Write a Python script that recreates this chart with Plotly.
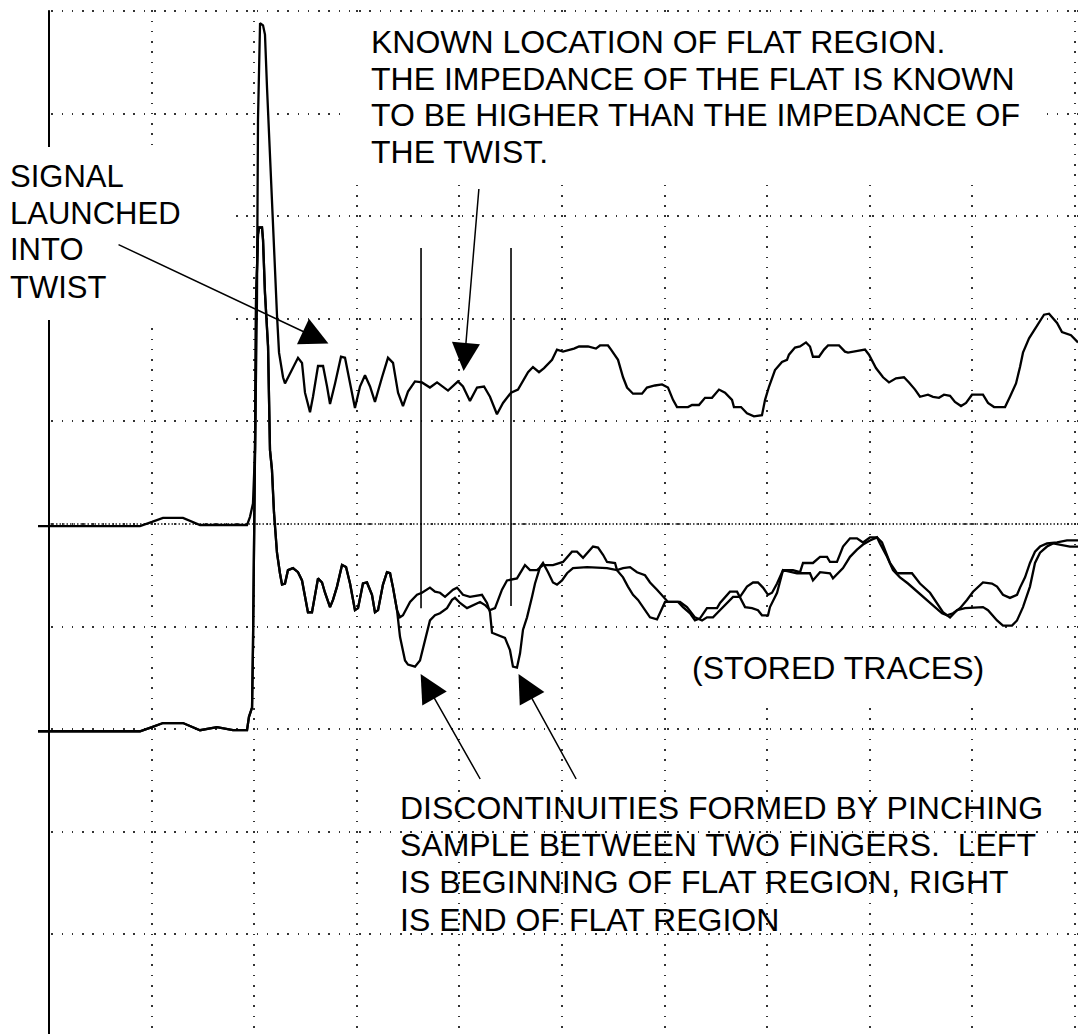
import plotly.graph_objects as go

# Time in screen divisions (10 across), amplitude in divisions (0 = centre graticule line)
upper_t = [-0.107, 0.887, 1.004, 1.111, 1.306, 1.394, 1.472, 1.793, 1.930, 1.959, 1.988, 2.008, 2.027, 2.037, 2.057, 2.086, 2.105, 2.125, 2.154, 2.183, 2.222, 2.242, 2.281, 2.300, 2.349, 2.427, 2.466, 2.495, 2.544, 2.573, 2.622, 2.671, 2.710, 2.739, 2.788, 2.846, 2.885, 2.934, 2.982, 3.031, 3.080, 3.129, 3.177, 3.246, 3.304, 3.353, 3.402, 3.450, 3.499, 3.567, 3.635, 3.713, 3.782, 3.889, 3.986, 4.035, 4.103, 4.172, 4.240, 4.298, 4.366, 4.425, 4.503, 4.571, 4.610, 4.669, 4.717, 4.776, 4.825, 4.903, 4.951, 5.010, 5.117, 5.166, 5.253, 5.331, 5.370, 5.448, 5.478, 5.546, 5.595, 5.634, 5.692, 5.780, 5.828, 5.906, 5.975, 6.033, 6.082, 6.121, 6.228, 6.267, 6.335, 6.394, 6.462, 6.530, 6.589, 6.657, 6.676, 6.745, 6.803, 6.871, 6.949, 6.979, 7.018, 7.076, 7.144, 7.193, 7.212, 7.271, 7.320, 7.378, 7.417, 7.446, 7.505, 7.554, 7.593, 7.700, 7.758, 7.788, 7.895, 7.953, 7.992, 8.060, 8.129, 8.187, 8.255, 8.333, 8.382, 8.441, 8.489, 8.567, 8.616, 8.674, 8.723, 8.782, 8.830, 8.889, 8.938, 8.996, 9.103, 9.152, 9.211, 9.318, 9.366, 9.425, 9.464, 9.493, 9.552, 9.620, 9.698, 9.747, 9.825, 9.873, 9.961, 10.029]
upper_v = [-0.02, -0.02, 0.02, 0.06, 0.06, 0.02, -0.01, -0.01, -0.01, 0.07, 0.20, 0.72, 2.18, 3.94, 4.88, 4.86, 4.77, 4.25, 3.55, 2.87, 2.04, 1.67, 1.43, 1.37, 1.47, 1.62, 1.57, 1.28, 1.09, 1.24, 1.54, 1.54, 1.34, 1.17, 1.37, 1.63, 1.62, 1.37, 1.13, 1.34, 1.45, 1.34, 1.19, 1.43, 1.62, 1.57, 1.28, 1.15, 1.29, 1.39, 1.38, 1.33, 1.38, 1.30, 1.39, 1.34, 1.20, 1.33, 1.34, 1.24, 1.07, 1.18, 1.28, 1.31, 1.38, 1.48, 1.53, 1.48, 1.52, 1.60, 1.70, 1.68, 1.71, 1.73, 1.73, 1.71, 1.74, 1.74, 1.70, 1.60, 1.43, 1.33, 1.27, 1.27, 1.33, 1.35, 1.36, 1.33, 1.21, 1.14, 1.14, 1.16, 1.16, 1.23, 1.23, 1.31, 1.28, 1.21, 1.14, 1.14, 1.08, 1.05, 1.06, 1.21, 1.34, 1.50, 1.58, 1.60, 1.65, 1.72, 1.73, 1.77, 1.73, 1.63, 1.63, 1.70, 1.74, 1.74, 1.68, 1.67, 1.69, 1.70, 1.65, 1.52, 1.43, 1.38, 1.42, 1.43, 1.38, 1.31, 1.24, 1.26, 1.24, 1.23, 1.26, 1.25, 1.19, 1.15, 1.18, 1.26, 1.26, 1.18, 1.14, 1.14, 1.24, 1.37, 1.53, 1.67, 1.81, 1.92, 2.04, 2.05, 1.96, 1.87, 1.84, 1.77]

# stored traces: common start, then the two pinched versions
stored_t = [-0.107, 0.887, 1.004, 1.111, 1.306, 1.404, 1.472, 1.637, 1.793, 1.930, 1.949, 1.979, 1.988, 2.008, 2.018, 2.037, 2.047, 2.076, 2.086, 2.105, 2.135, 2.154, 2.173, 2.193, 2.212, 2.222, 2.251, 2.271, 2.300, 2.329, 2.378, 2.427, 2.466, 2.495, 2.524, 2.563, 2.593, 2.622, 2.661, 2.690, 2.739, 2.768, 2.807, 2.856, 2.895, 2.934, 2.982, 3.012, 3.060, 3.099, 3.148, 3.177, 3.207, 3.255, 3.294, 3.324, 3.353, 3.392]
stored_v = [-2.02, -2.02, -1.98, -1.94, -1.94, -1.98, -2.01, -1.98, -2.01, -2.01, -1.88, -1.79, -1.20, 0.72, 2.18, 2.82, 2.89, 2.89, 2.77, 2.25, 1.73, 0.72, 0.53, 0.11, -0.13, -0.28, -0.48, -0.59, -0.58, -0.45, -0.43, -0.47, -0.55, -0.71, -0.86, -0.86, -0.67, -0.53, -0.57, -0.67, -0.81, -0.74, -0.61, -0.40, -0.42, -0.58, -0.84, -0.82, -0.58, -0.57, -0.69, -0.86, -0.84, -0.59, -0.47, -0.48, -0.62, -0.84]

left_pinch_t = [3.421, 3.470, 3.499, 3.567, 3.616, 3.665, 3.713, 3.762, 3.811, 3.879, 3.928, 3.957, 4.006, 4.074, 4.133, 4.201, 4.250, 4.298, 4.347, 4.415, 4.464, 4.561, 4.639, 4.688, 4.756, 4.815, 4.912, 5.010, 5.097, 5.146, 5.205, 5.253, 5.302, 5.351, 5.400, 5.439, 5.517, 5.536, 5.595, 5.643, 5.692, 5.741, 5.789, 5.858, 5.926, 5.975, 6.004, 6.150, 6.218, 6.296, 6.365, 6.413, 6.472, 6.520, 6.608, 6.667, 6.735, 6.803, 6.862, 6.910, 6.959, 7.008, 7.047, 7.096, 7.154, 7.251, 7.320, 7.349, 7.446, 7.515, 7.583, 7.612, 7.680, 7.739, 7.807, 7.875, 7.934, 8.002, 8.070, 8.119, 8.197, 8.265, 8.411, 8.489, 8.587, 8.655, 8.713, 8.782, 8.850, 8.928, 9.103, 9.152, 9.240, 9.298, 9.386, 9.435, 9.493, 9.561, 9.610, 9.659, 9.727, 9.786, 9.854, 9.951, 10.029]
left_pinch_v = [-1.10, -1.33, -1.37, -1.39, -1.33, -1.13, -0.94, -0.89, -0.87, -0.82, -0.74, -0.72, -0.77, -0.82, -0.79, -0.76, -0.79, -0.84, -0.82, -0.64, -0.55, -0.53, -0.40, -0.45, -0.45, -0.40, -0.40, -0.37, -0.27, -0.27, -0.33, -0.28, -0.22, -0.23, -0.30, -0.37, -0.38, -0.45, -0.52, -0.61, -0.69, -0.74, -0.81, -0.91, -0.93, -0.82, -0.76, -0.76, -0.81, -0.91, -0.94, -0.91, -0.91, -0.86, -0.77, -0.71, -0.71, -0.61, -0.57, -0.57, -0.62, -0.69, -0.67, -0.58, -0.45, -0.45, -0.47, -0.38, -0.38, -0.32, -0.32, -0.37, -0.37, -0.22, -0.14, -0.14, -0.18, -0.13, -0.13, -0.18, -0.38, -0.48, -0.48, -0.58, -0.67, -0.77, -0.86, -0.91, -0.84, -0.82, -0.81, -0.84, -0.94, -0.99, -0.99, -0.94, -0.81, -0.61, -0.38, -0.28, -0.22, -0.19, -0.20, -0.22, -0.22]

right_pinch_t = [3.421, 3.450, 3.519, 3.587, 3.635, 3.713, 3.762, 3.811, 3.860, 3.938, 3.977, 4.035, 4.103, 4.220, 4.269, 4.298, 4.318, 4.376, 4.444, 4.493, 4.522, 4.561, 4.591, 4.620, 4.659, 4.708, 4.737, 4.786, 4.815, 4.864, 4.912, 4.951, 5.000, 5.049, 5.107, 5.244, 5.439, 5.536, 5.595, 5.663, 5.731, 5.809, 5.858, 5.926, 5.984, 6.033, 6.131, 6.179, 6.248, 6.296, 6.345, 6.413, 6.511, 6.540, 6.637, 6.706, 6.784, 6.852, 6.910, 6.949, 7.008, 7.027, 7.096, 7.154, 7.290, 7.417, 7.446, 7.515, 7.612, 7.641, 7.739, 7.807, 7.875, 7.934, 8.002, 8.070, 8.099, 8.168, 8.226, 8.294, 8.372, 8.460, 8.558, 8.635, 8.704, 8.752, 8.811, 8.879, 8.947, 9.006, 9.103, 9.191, 9.240, 9.298, 9.366, 9.435, 9.464, 9.513, 9.561, 9.610, 9.659, 9.727, 9.825, 9.922, 10.029]
right_pinch_v = [-0.91, -0.89, -0.76, -0.69, -0.67, -0.62, -0.66, -0.67, -0.71, -0.64, -0.62, -0.69, -0.71, -0.69, -0.77, -0.86, -1.06, -1.08, -1.11, -1.23, -1.39, -1.40, -1.26, -1.03, -0.91, -0.71, -0.58, -0.42, -0.38, -0.47, -0.57, -0.59, -0.55, -0.48, -0.43, -0.42, -0.43, -0.45, -0.43, -0.42, -0.47, -0.50, -0.57, -0.64, -0.71, -0.76, -0.76, -0.81, -0.87, -0.94, -0.92, -0.82, -0.82, -0.77, -0.66, -0.66, -0.81, -0.82, -0.84, -0.89, -0.89, -0.81, -0.67, -0.45, -0.48, -0.48, -0.55, -0.47, -0.48, -0.53, -0.43, -0.32, -0.25, -0.20, -0.16, -0.13, -0.19, -0.32, -0.45, -0.52, -0.58, -0.66, -0.74, -0.81, -0.87, -0.89, -0.87, -0.82, -0.74, -0.66, -0.57, -0.58, -0.61, -0.69, -0.72, -0.69, -0.62, -0.52, -0.38, -0.27, -0.22, -0.19, -0.18, -0.16, -0.16]

# cursor markers
cursor_t = [3.626, 4.503]
cursor_top = [2.69, 2.69]
cursor_bottom = [-0.82, -0.80]

# annotation arrows: (tail, tip)
arrow_tail_t = [0.663, 4.191, 4.211, 5.146]
arrow_tail_v = [2.73, 3.28, -2.50, -2.50]
arrow_tip_t = [2.788, 4.035, 3.587, 4.542]
arrow_tip_v = [1.73, 1.42, -1.40, -1.40]

signal_lines = ["SIGNAL", "LAUNCHED", "INTO", "TWIST"]
known_lines = ["KNOWN LOCATION OF FLAT REGION.", "THE IMPEDANCE OF THE FLAT IS KNOWN",
               "TO BE HIGHER THAN THE IMPEDANCE OF", "THE TWIST."]
disc_lines = ["DISCONTINUITIES FORMED BY PINCHING", "SAMPLE BETWEEN TWO FINGERS.\u00a0 LEFT",
              "IS BEGINNING OF FLAT REGION, RIGHT", "IS END OF FLAT REGION"]
stored_label = "(STORED TRACES)"

X_RANGE = [-0.4776, 10.0292]
Y_RANGE = [-4.9708, 5.1072]
FONT = "Liberation Sans, Arial, Helvetica, sans-serif"
LW = 2.3

fig = go.Figure()

fig.add_trace(go.Scatter(x=upper_t, y=upper_v, mode="lines",
                         line=dict(color="black", width=LW), hoverinfo="skip"))
fig.add_trace(go.Scatter(x=stored_t + left_pinch_t, y=stored_v + left_pinch_v, mode="lines",
                         line=dict(color="black", width=LW), hoverinfo="skip"))
fig.add_trace(go.Scatter(x=stored_t + right_pinch_t, y=stored_v + right_pinch_v, mode="lines",
                         line=dict(color="black", width=LW), hoverinfo="skip"))

cx, cy = [], []
for t, a, b in zip(cursor_t, cursor_top, cursor_bottom):
    cx += [t, t, None]
    cy += [a, b, None]
fig.add_trace(go.Scatter(x=cx, y=cy, mode="lines", line=dict(color="black", width=1.6),
                         hoverinfo="skip"))

shapes = []
# dense centre graticule line
shapes.append(dict(type="line", xref="x", yref="y", x0=0, x1=X_RANGE[1], y0=0, y1=0,
                   line=dict(color="#222", width=1.5, dash="1.5px,2px"), layer="between"))
# solid left frame line
shapes.append(dict(type="line", xref="x", yref="y", x0=0, x1=0, y0=5.0, y1=Y_RANGE[0],
                   line=dict(color="black", width=2), layer="between"))
# white masks over the graticule
def mask(x0, x1, y0, y1):
    shapes.append(dict(type="rect", xref="x", yref="y", x0=x0, x1=x1, y0=y0, y1=y1,
                       fillcolor="white", line=dict(width=0), layer="between"))
mask(X_RANGE[0], -0.015, Y_RANGE[0], Y_RANGE[1])
mask(X_RANGE[0], X_RANGE[1], 5.015, Y_RANGE[1])
mask(X_RANGE[0], 1.764, 1.988, 3.674)
mask(2.904, 9.659, 3.304, 4.961)
mask(6.248, 9.269, -1.715, -1.092)

annotations = []
def label(text, x, y, size=32):
    annotations.append(dict(text=text, x=x, y=y, xref="x", yref="y", showarrow=False,
                            xanchor="left", yanchor="middle",
                            font=dict(family=FONT, size=size, color="black")))

for txt, yv in zip(signal_lines, [3.385, 3.028, 2.671, 2.308]):
    label(txt, -0.395, yv, size=31)
for txt, yv in zip(known_lines, [4.698, 4.342, 3.986, 3.629]):
    label(txt, 3.114, yv)
for txt, yv in zip(disc_lines, [-2.771, -3.129, -3.492, -3.860]):
    label(txt, 3.406, yv)
label(stored_label, 6.248, -1.404)

AW = 1.5
AS = 3.75
for tx, ty, hx, hy in zip(arrow_tail_t, arrow_tail_v, arrow_tip_t, arrow_tip_v):
    annotations.append(dict(text="", x=hx, y=hy, ax=tx, ay=ty, xref="x", yref="y",
                            axref="x", ayref="y", showarrow=True, arrowhead=2,
                            arrowsize=AS, arrowwidth=AW, arrowcolor="black",
                            standoff=1.3 * AS * AW))

fig.update_layout(
    width=1078, height=1034,
    margin=dict(l=0, r=0, t=0, b=0, pad=0),
    paper_bgcolor="white", plot_bgcolor="white",
    showlegend=False,
    shapes=shapes, annotations=annotations,
    xaxis=dict(range=X_RANGE, tick0=0, dtick=1, showgrid=True, gridcolor="#333",
               gridwidth=1.6, griddash="1.6px,8.66px", zeroline=False,
               showticklabels=False, ticks="", showline=False, fixedrange=True),
    yaxis=dict(range=Y_RANGE, tick0=0, dtick=1, showgrid=True, gridcolor="#333",
               gridwidth=1.6, griddash="1.6px,8.66px", zeroline=False,
               showticklabels=False, ticks="", showline=False, fixedrange=True),
)

fig.write_html("out.html", config={"displayModeBar": False},
               post_script="document.body.style.margin='0';document.body.style.padding='0';"
                           "document.body.style.overflow='hidden';")
